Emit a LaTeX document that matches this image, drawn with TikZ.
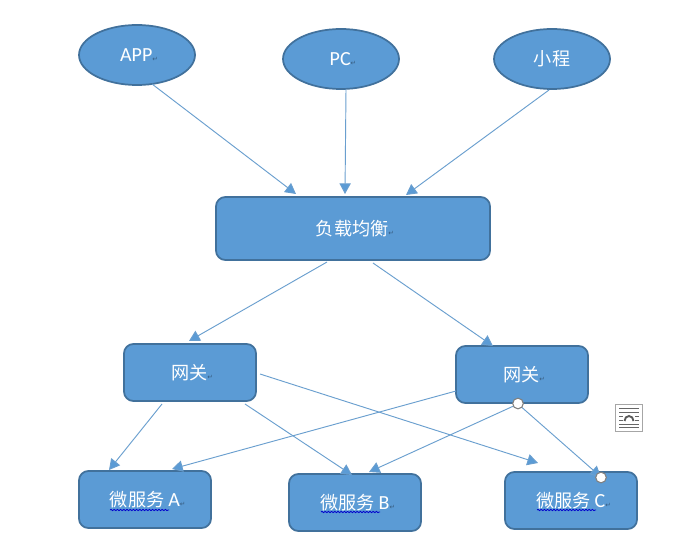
\documentclass[tikz,border=0pt]{standalone}
\usepackage{fontspec}
\setmainfont{Carlito}
\newfontfamily\cjk{Noto Sans CJK SC}
\newfontfamily\retfont{DejaVu Sans}
\usetikzlibrary{arrows.meta,calc,shapes.geometric,decorations.pathmorphing}
\definecolor{boxfill}{HTML}{5B9BD5}
\definecolor{boxline}{HTML}{41719C}
\definecolor{linkcol}{HTML}{6A9FCF}
\newcommand{\retmark}{\textcolor{black!40!boxfill}{\retfont\fontsize{5}{5}\selectfont ↵}}
\newcommand{\zh}[1]{{\cjk\fontsize{13.6}{15}\selectfont #1}}
\tikzset{
 x=0.75pt,y=-0.75pt,
 base/.style={fill=boxfill,draw=boxline,line width=1.3pt,text=white,inner sep=0pt,outer sep=0pt,font=\fontsize{15}{17}\selectfont},
 oval/.style={base,ellipse,minimum width=87pt,minimum height=45pt},
 lbbox/.style={base,rounded corners=7pt,minimum width=205.5pt,minimum height=47.25pt},
 svc/.style={base,rounded corners=7pt,minimum width=99pt,minimum height=42.75pt},
 link/.style={draw=linkcol,line width=0.7pt,-{Triangle[length=8pt,width=8.5pt,fill=boxfill]}},
 handle/.style={circle,fill=white,draw=gray,line width=0.8pt,minimum size=8pt,inner sep=0pt},
 squiggle/.style={draw=blue!80!black,line width=0.6pt,decorate,decoration={snake,amplitude=0.5pt,segment length=2.4pt}},
 iconline/.style={draw=black!60,line width=0.6pt}
}
\begin{document}
\begin{tikzpicture}
\useasboundingbox (0,0) rectangle (699,545);
\fill[white] (0,0) rectangle (699,545);
\node[oval] (app) at (137,55) {\hspace{3pt}APP\retmark};
\node[oval] (pc) at (341,59) {\hspace{3pt}PC\retmark};
\node[oval] (mini) at (552,59) {\zh{小程}};
\node[lbbox] (lb) at (353,228.5) {\hspace{3pt}\zh{负载均衡}\retmark};
\node[svc] (gwa) at (190,372.5) {\hspace{3pt}\zh{网关}\retmark};
\node[svc] (gwb) at (522,374.5) {\hspace{3pt}\zh{网关}\retmark};
\node[svc] (sa) at (145,499.5) {\hspace{4pt}\zh{微服务}\hspace{3pt}A\retmark};
\node[svc] (sb) at (355,502.5) {\hspace{4pt}\zh{微服务}\hspace{3pt}B\retmark};
\node[svc] (sc) at (571,500.5) {\hspace{4pt}\zh{微服务}\hspace{3pt}C\retmark};
\draw[link] ($(app)+(15,29)$) -- ($(lb)+(-57,-34.5)$);
\draw[link] ($(pc)+(5,30)$) -- ($(lb)+(-8,-34.5)$);
\draw[link] ($(mini)+(-3,31)$) -- ($(lb)+(53,-33.5)$);
\draw[link] ($(lb)+(-26,33.5)$) -- ($(gwa)+(-1,-31.5)$);
\draw[link] ($(lb)+(20,34.5)$) -- ($(gwb)+(-29,-28.5)$);
\draw[link] ($(gwa)+(-28,31.5)$) -- ($(sa)+(-36,-29.5)$);
\draw[link] ($(gwa)+(55,31.5)$) -- ($(sb)+(-3,-27.5)$);
\draw[link] ($(gwa)+(70,1.5)$) -- ($(sc)+(-33,-37.5)$);
\draw[link] ($(gwb)+(-66,16.5)$) -- ($(sa)+(27,-30.5)$);
\draw[link] ($(gwb)+(-4,29.5)$) -- ($(sb)+(14,-30.5)$);
\draw[link] ($(gwb)+(-4,29.5)$) -- ($(sc)+(30,-23.5)$);
\node[handle] (h1) at ($(gwb)+(-4,29)$) {};
\node[handle] (h2) at ($(sc)+(30,-23)$) {};
\path[squiggle] (110,510) -- (169,510);
\path[squiggle] (321,512) -- (380,512);
\path[squiggle] (537,510) -- (596,510);
% layout icon
\draw[draw=black!35,fill=white,line width=0.5pt] (615,404) rectangle (642,431);
\foreach \yy in {408,412,416,420,424,427}{\draw[iconline] (619,\yy) -- (639,\yy);}
\fill[white] (623,412.6) rectangle (635,423);
\draw[draw=black!65,line width=1.4pt] (624.5,421) arc[start angle=180,end angle=360,x radius=4.5,y radius=5];
\end{tikzpicture}
\end{document}
